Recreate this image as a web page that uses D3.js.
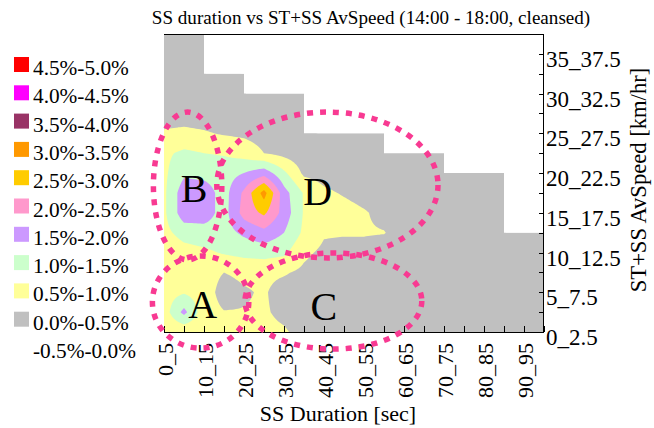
<!DOCTYPE html>
<html><head><meta charset="utf-8">
<script src="https://cdnjs.cloudflare.com/ajax/libs/d3/7.8.5/d3.min.js"></script>
<style>
body{margin:0;background:#fff}
svg{display:block}
text{font-family:"Liberation Serif","Times New Roman",serif;fill:#000}
</style>
</head><body>
<svg id="chart" width="654" height="428"></svg>
<script>
// ---------------- DATA ----------------
const durations = ["0_5","5_10","10_15","15_20","20_25","25_30","30_35","35_40","40_45","45_50",
  "50_55","55_60","60_65","65_70","70_75","75_80","80_85","85_90","90_95","95_100"];
const speeds = ["0_2.5","2.5_5","5_7.5","7.5_10","10_12.5","12.5_15","15_17.5","17.5_20",
  "20_22.5","22.5_25","25_27.5","27.5_30","30_32.5","32.5_35","35_37.5","37.5_40"];
const xTickLabels = ["0_5","10_15","20_25","30_35","40_45","50_55","60_65","70_75","80_85","90_95"];
const yTickLabels = ["0_2.5","5_7.5","10_12.5","15_17.5","20_22.5","25_27.5","30_32.5","35_37.5"];
const bandLevels = [0,0.5,1,1.5,2,2.5,3,3.5,4,4.5];
const bandColors = ["#c0c0c0","#ffff99","#ccffcc","#cc99ff","#ff99cc","#ffcc00","#ff9900","#993366","#ff00ff","#ff0000"];
const bandLabels = ["0.0%-0.5%","0.5%-1.0%","1.0%-1.5%","1.5%-2.0%","2.0%-2.5%","2.5%-3.0%",
  "3.0%-3.5%","3.5%-4.0%","4.0%-4.5%","4.5%-5.0%"];
const negativeLabel = "-0.5%-0.0%";
// share (%) per speed row (bottom 0_2.5 -> top 37.5_40), columns follow durations; null = no data
const shareRows = [
  /* 0_2.5   */ [0.6,0.6,0.65,0.6,0.6,0.6,0.55,0.35,0.2,0.15,0.1,0.1,0.1,0.05,0.05,0.05,0.05,0.05,0.05,0.05],
  /* 2.5_5   */ [0.75,1.65,0.7,0.52,0.52,0.55,0.4,0.25,0.2,0.15,0.15,0.1,0.1,0.1,0.1,0.05,0.05,0.05,0.05,0.05],
  /* 5_7.5   */ [0.8,0.95,0.75,0.3,0.45,0.55,0.3,0.2,0.2,0.15,0.15,0.1,0.1,0.1,0.1,0.05,0.05,0.05,0.05,0.05],
  /* 7.5_10  */ [0.7,0.65,0.7,0.5,0.6,0.6,0.55,0.4,0.25,0.2,0.2,0.15,0.15,0.1,0.1,0.1,0.1,0.05,0.05,0.05],
  /* 10_12.5 */ [0.6,0.8,0.9,1.05,1.15,1.2,1.1,0.6,0.4,0.3,0.3,0.25,0.2,0.15,0.1,0.1,0.1,0.1,0.05,0.05],
  /* 12.5_15 */ [0.85,1.2,1.3,1.3,1.6,1.85,1.5,0.9,0.55,0.55,0.55,0.52,0.3,0.2,0.15,0.1,0.1,0.1,0.05,0.05],
  /* 15_17.5 */ [0.9,1.8,1.75,1.3,2.2,2.6,1.8,0.95,0.8,0.7,0.55,0.35,0.2,0.15,0.1,0.1,0.1,0.05,null,null],
  /* 17.5_20 */ [0.9,1.8,1.75,1.3,2.1,3.2,1.7,0.95,0.6,0.45,0.3,0.2,0.15,0.1,0.1,0.1,0.05,0.05,null,null],
  /* 20_22.5 */ [0.9,1.4,1.35,1.3,1.5,1.8,1.1,0.4,0.3,0.2,0.15,0.1,0.1,0.1,0.05,0.05,0.05,0.05,null,null],
  /* 22.5_25 */ [0.9,1.1,1.0,0.95,0.8,0.5,0.35,0.2,0.15,0.1,0.1,0.1,0.05,0.05,0.05,null,null,null,null,null],
  /* 25_27.5 */ [0.55,0.6,0.55,0.45,0.4,0.3,0.2,0.15,0.1,0.1,0.05,0.05,null,null,null,null,null,null,null,null],
  /* 27.5_30 */ [0.3,0.3,0.25,0.2,0.2,0.15,0.1,0.1,null,null,null,null,null,null,null,null,null,null,null,null],
  /* 30_32.5 */ [0.2,0.2,0.15,0.15,0.1,0.1,0.05,0.05,null,null,null,null,null,null,null,null,null,null,null,null],
  /* 32.5_35 */ [0.15,0.15,0.1,0.1,0.05,null,null,null,null,null,null,null,null,null,null,null,null,null,null,null],
  /* 35_37.5 */ [0.1,0.15,0.1,null,null,null,null,null,null,null,null,null,null,null,null,null,null,null,null,null],
  /* 37.5_40 */ [0.1,0.1,0.05,null,null,null,null,null,null,null,null,null,null,null,null,null,null,null,null,null]
];
// annotation ellipses, in category-index units (duration index, speed index)
const annotations = [
  {label:"A", cx:1.83, cy:1.51, rx:2.41, ry:2.32, tx:1.93, ty:0.70},
  {label:"B", cx:1.18, cy:7.35, rx:1.71, ry:3.72, tx:1.50, ty:6.54},
  {label:"C", cx:8.47, cy:1.56, rx:4.42, ry:2.42, tx:7.99, ty:0.60},
  {label:"D", cx:8.17, cy:7.40, rx:5.53, ry:3.67, tx:7.69, ty:6.39}
];

// ---------------- LAYOUT ----------------
const svg = d3.select("#chart");
const L = 164, R = 544, T = 34, B = 332;
const x = d3.scalePoint().domain(durations).range([L, R]);
const y = d3.scalePoint().domain(speeds).range([B, T]);
const nI = durations.length, nJ = speeds.length;
const xi = d3.scaleLinear().domain([0, nI-1]).range([x(durations[0]), x(durations[nI-1])]);
const yj = d3.scaleLinear().domain([0, nJ-1]).range([y(speeds[0]), y(speeds[nJ-1])]);

// ---------------- CONTOURS ----------------
const K = 10;
const nx = (nI-1)*K + 1, ny = (nJ-1)*K + 1;
function cellValid(ci, cj){
  if (ci < 0 || cj < 0 || ci > nI-2 || cj > nJ-2) return false;
  return shareRows[cj][ci] != null && shareRows[cj][ci+1] != null &&
         shareRows[cj+1][ci] != null && shareRows[cj+1][ci+1] != null;
}
function valueAt(gi, gj){
  const cis = [Math.floor(gi), Math.ceil(gi)-1];
  const cjs = [Math.floor(gj), Math.ceil(gj)-1];
  for (const ci of cis) for (const cj of cjs) {
    if (cellValid(ci, cj)) {
      const u = gi - ci, w = gj - cj;
      const v00 = shareRows[cj][ci], v10 = shareRows[cj][ci+1];
      const v01 = shareRows[cj+1][ci], v11 = shareRows[cj+1][ci+1];
      return (1-u)*(1-w)*v00 + u*(1-w)*v10 + (1-u)*w*v01 + u*w*v11;
    }
  }
  return -1;
}
const grid = new Array(nx*ny);
for (let q = 0; q < ny; q++) {
  const gj = (nJ-1) - q / K;
  for (let p = 0; p < nx; p++) grid[q*nx + p] = valueAt(p / K, gj);
}
const contours = d3.contours().size([nx, ny]).thresholds(bandLevels)(grid);
const fx = d3.scaleLinear().domain([0.5, nx-0.5]).range([xi(0), xi(nI-1)]);
const fy = d3.scaleLinear().domain([0.5, ny-0.5]).range([yj(nJ-1), yj(0)]);
const path = d3.geoPath(d3.geoTransform({point(px, py){ this.stream.point(fx(px), fy(py)); }}));

// clip to cells that have data
const defs = svg.append("defs");
const clip = defs.append("clipPath").attr("id", "dataClip");
for (let ci = 0; ci < nI-1; ci++) {
  let top = 0;
  while (top < nJ-1 && cellValid(ci, top)) top++;
  if (top > 0) clip.append("rect")
    .attr("x", xi(ci)).attr("width", xi(ci+1)-xi(ci))
    .attr("y", yj(top)).attr("height", yj(0)-yj(top));
}
svg.append("g").attr("clip-path", "url(#dataClip)")
  .selectAll("path").data(contours).join("path")
  .attr("d", path)
  .attr("fill", d => bandColors[bandLevels.indexOf(d.value)]);

// ---------------- FRAME & AXES ----------------
const axisG = svg.append("g").attr("stroke", "#000").attr("stroke-width", 1).attr("fill", "none");
axisG.append("path")
  .attr("d", `M${L},${T+0.5}H${R-0.5}V${B+0.5}H${L}`);
axisG.selectAll("line.xt").data(durations).join("line").attr("class","xt")
  .attr("x1", d => Math.round(x(d))+0.5).attr("x2", d => Math.round(x(d))+0.5)
  .attr("y1", B).attr("y2", B-6);
axisG.selectAll("line.yt").data(speeds).join("line").attr("class","yt")
  .attr("y1", d => Math.round(y(d))+0.5).attr("y2", d => Math.round(y(d))+0.5)
  .attr("x1", R).attr("x2", R-5);

svg.append("g").selectAll("text").data(xTickLabels).join("text")
  .attr("transform", d => `translate(${x(d)+1},343) rotate(-90)`)
  .attr("text-anchor", "end").attr("dy", "0.35em")
  .attr("font-size", 22).text(d => d);
svg.append("g").selectAll("text").data(yTickLabels).join("text")
  .attr("x", R+2).attr("y", d => y(d)+5).attr("dy", "0.35em")
  .attr("font-size", 23).text(d => d);

svg.append("text").attr("x", 338).attr("y", 421).attr("text-anchor", "middle")
  .attr("font-size", 22).text("SS Duration [sec]");
svg.append("text").attr("transform", "translate(638,180) rotate(-90)").attr("text-anchor", "middle")
  .attr("dy", "0.35em").attr("font-size", 22.6).text("ST+SS AvSpeed [km/hr]");
svg.append("text").attr("x", 371).attr("y", 24).attr("text-anchor", "middle")
  .attr("font-size", 19.1).text("SS duration vs ST+SS AvSpeed (14:00 - 18:00, cleansed)");

// ---------------- LEGEND ----------------
const legendRows = bandLabels.map((l, k) => ({label: l, color: bandColors[k]})).reverse()
  .concat([{label: negativeLabel, color: null}]);
const lg = svg.append("g");
const ly = d3.scaleLinear().domain([0, 1]).range([57, 85.3]);
lg.selectAll("rect").data(legendRows.filter(d => d.color)).join("rect")
  .attr("x", 14).attr("y", (d, k) => ly(k)).attr("width", 15).attr("height", 15)
  .attr("fill", d => d.color);
lg.selectAll("text").data(legendRows).join("text")
  .attr("x", 33).attr("y", (d, k) => ly(k) + 18).attr("font-size", 21.3).text(d => d.label);

// ---------------- ANNOTATIONS ----------------
const an = svg.append("g");
an.selectAll("ellipse").data(annotations).join("ellipse")
  .attr("cx", d => xi(d.cx)).attr("cy", d => yj(d.cy))
  .attr("rx", d => xi(d.rx) - xi(0)).attr("ry", d => yj(0) - yj(d.ry))
  .attr("fill", "none").attr("stroke", "#f83a92").attr("stroke-width", 5.5)
  .attr("stroke-dasharray", "6 7");
an.selectAll("text").data(annotations).join("text")
  .attr("x", d => xi(d.tx)).attr("y", d => yj(d.ty)).attr("text-anchor", "middle")
  .attr("font-size", 40).text(d => d.label);
</script>
</body></html>
